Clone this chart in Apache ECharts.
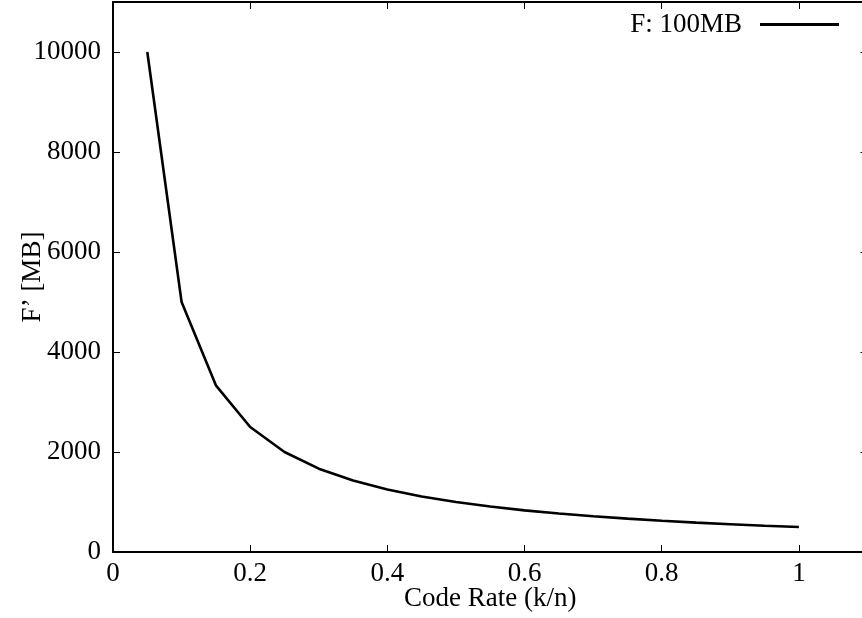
<!DOCTYPE html>
<html>
<head>
<meta charset="utf-8">
<script src="https://cdn.jsdelivr.net/npm/echarts@6/dist/echarts.min.js"></script>
<style>
html,body{margin:0;padding:0;background:#fff;}
#c{width:862px;height:618px;}
</style>
</head>
<body>
<div id="c"></div>
<script>
var codeRates = [0.05,0.1,0.15,0.2,0.25,0.3,0.35,0.4,0.45,0.5,0.55,0.6,0.65,0.7,0.75,0.8,0.85,0.9,0.95,1.0];
var fPrime = [10000,5000,3333,2500,2000,1667,1429,1250,1111,1000,909,833,769,714,667,625,588,556,526,500];
var seriesName = 'F: 100MB';
var xTitle = 'Code Rate (k/n)';
var yTitle = 'F\u2019 [MB]';

var font = 'Liberation Serif';
var fs = 27;
var chart = echarts.init(document.getElementById('c'), null, {renderer:'canvas'});
var pts = codeRates.map(function(x,i){return [x,fPrime[i]];});
function axisCommon(){
  return {
    axisLine:{show:true,onZero:false,lineStyle:{color:'#000',width:2}},
    axisTick:{show:true,inside:true,length:7,lineStyle:{color:'#000',width:1}},
    splitLine:{show:false}
  };
}
chart.setOption({
  animation:false,
  backgroundColor:'#fff',
  grid:{left:113,top:2,right:-5.5,bottom:66,containLabel:false,outerBoundsMode:'none'},
  legend:{
    show:true,
    right:18, top:6,
    align:'right',
    itemWidth:79, itemHeight:3,
    itemGap:0,
    textStyle:{fontFamily:font,fontSize:fs,color:'#000',padding:[0,13,0,0]},
    data:[{name:seriesName,icon:'rect',itemStyle:{color:'#000'}}]
  },
  xAxis:[
    Object.assign({type:'value',min:0,max:1.1,interval:0.2,position:'bottom',
      name:xTitle,nameLocation:'middle',nameGap:33,nameMoveOverlap:false,
      nameTextStyle:{fontFamily:font,fontSize:fs,color:'#000'},
      axisLabel:{fontFamily:font,fontSize:fs,color:'#000',margin:8,showMaxLabel:false,
        formatter:function(v){return String(Math.round(v*10)/10);}}
    },axisCommon()),
    Object.assign({type:'value',min:0,max:1.1,interval:0.2,position:'top',
      axisLabel:{show:false}},axisCommon())
  ],
  yAxis:[
    Object.assign({type:'value',min:0,max:11000,interval:2000,position:'left',
      name:yTitle,nameLocation:'middle',nameGap:67,nameMoveOverlap:false,
      nameTextStyle:{fontFamily:font,fontSize:fs,color:'#000'},
      axisLabel:{fontFamily:font,fontSize:fs,color:'#000',margin:12,showMaxLabel:false,
        formatter:function(v){return String(v);}}
    },axisCommon()),
    Object.assign({type:'value',min:0,max:11000,interval:2000,position:'right',
      axisLabel:{show:false}},axisCommon())
  ],
  series:[{
    name:seriesName,
    type:'line',
    data:pts,
    showSymbol:false,
    symbol:'none',
    lineStyle:{color:'#000',width:2.6},
    itemStyle:{color:'#000'}
  }]
});
</script>
</body>
</html>
